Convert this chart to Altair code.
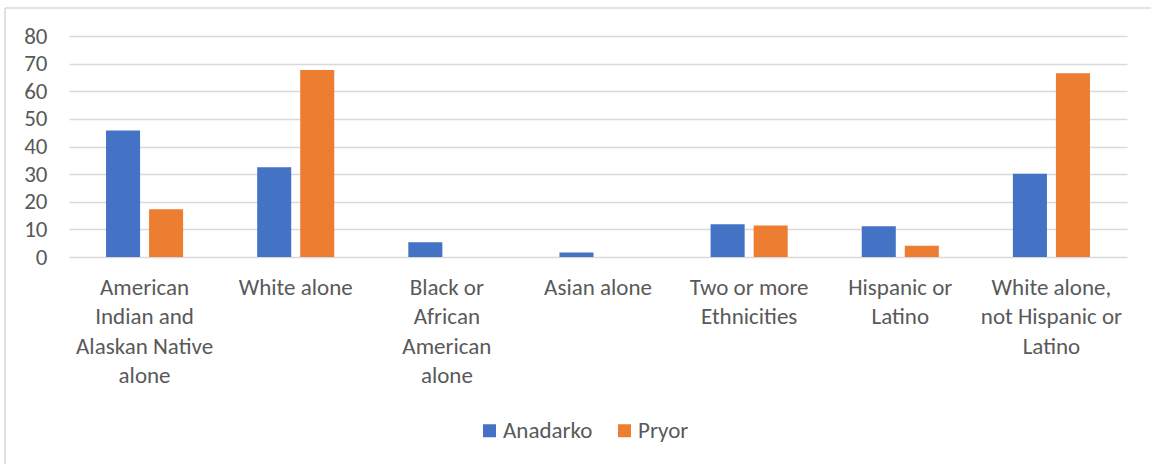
import altair as alt
import pandas as pd

# Category labels, one list of wrapped lines per group
label_lines = [
    ["American", "Indian and", "Alaskan Native", "alone"],
    ["White alone"],
    ["Black or", "African", "American", "alone"],
    ["Asian alone"],
    ["Two or more", "Ethnicities"],
    ["Hispanic or", "Latino"],
    ["White alone,", "not Hispanic or", "Latino"],
]
categories = [" ".join(lines) for lines in label_lines]

series = ["Anadarko", "Pryor"]
anadarko = [45.8, 32.5, 5.3, 1.6, 11.9, 11.1, 30.1]
pryor = [17.3, 67.7, 0.0, 0.0, 11.4, 4.1, 66.5]
colors = ["#4472C4", "#ED7D31"]
y_ticks = [0, 10, 20, 30, 40, 50, 60, 70, 80]

rows = []
for cat, a, p in zip(categories, anadarko, pryor):
    rows.append({"category": cat, "city": series[0], "pct": a})
    rows.append({"category": cat, "city": series[1], "pct": p})
df = pd.DataFrame(rows)


def js(s):
    return "'" + s.replace("'", "\\'") + "'"


# Multi-line axis labels via a lookup chain
label_expr = "datum.value"
for cat, lines in reversed(list(zip(categories, label_lines))):
    arr = "[" + ", ".join(js(l) for l in lines) + "]"
    label_expr = f"datum.value == {js(cat)} ? {arr} : ({label_expr})"

FONT = "Carlito, Lato, sans-serif"
TEXT = "#595959"
GRID = "#D9D9D9"

bars = alt.Chart(df).mark_bar().encode(
    x=alt.X(
        "category:N",
        sort=categories,
        scale=alt.Scale(paddingInner=0.49, paddingOuter=0.245),
        axis=alt.Axis(
            title=None,
            labelAngle=0,
            labelExpr=label_expr,
            labelFont=FONT,
            labelFontSize=23,
            labelColor=TEXT,
            labelLineHeight=29.5,
            labelPadding=19,
            labelBaseline="top",
            ticks=False,
            domain=False,
            labelLimit=300,
        ),
    ),
    xOffset=alt.XOffset("city:N", sort=series,
                        scale=alt.Scale(paddingInner=0.209, paddingOuter=0)),
    y=alt.Y(
        "pct:Q",
        scale=alt.Scale(domain=[0, 80], nice=False),
        axis=alt.Axis(
            title=None,
            values=y_ticks,
            labelFont=FONT,
            labelFontSize=23,
            labelColor=TEXT,
            labelPadding=22,
            ticks=False,
            domain=False,
            grid=True,
            gridColor=GRID,
            gridWidth=1.5,
        ),
    ),
    color=alt.Color(
        "city:N",
        sort=series,
        scale=alt.Scale(domain=series, range=colors),
        legend=alt.Legend(
            title=None,
            orient="none",
            direction="horizontal",
            legendX=409,
            legendY=383,
            symbolType="square",
            symbolSize=169,
            symbolStrokeWidth=0,
            labelFont=FONT,
            labelFontSize=23,
            labelColor=TEXT,
            labelOffset=2,
            columnPadding=20,
        ),
    ),
)

# Light frame along the chart's left and top edges
frame_src = alt.Chart(pd.DataFrame({"k": [0]}))
frame_left = frame_src.mark_rule(color=GRID, strokeWidth=1.5).encode(
    x=alt.value(-64), y=alt.value(-28), y2=alt.value(440)
)
frame_top = frame_src.mark_rule(color=GRID, strokeWidth=1.5).encode(
    x=alt.value(-64), x2=alt.value(1090), y=alt.value(-28)
)

chart = (
    alt.layer(frame_left, frame_top, bars)
    .properties(
        width=1058,
        height=221,
        autosize=alt.AutoSizeParams(type="none"),
        padding={"left": 69, "top": 36, "right": 24, "bottom": 207},
        background="white",
    )
    .configure_view(stroke=None)
)

chart.save("out.html", embed_options={"renderer": "svg", "actions": False})
